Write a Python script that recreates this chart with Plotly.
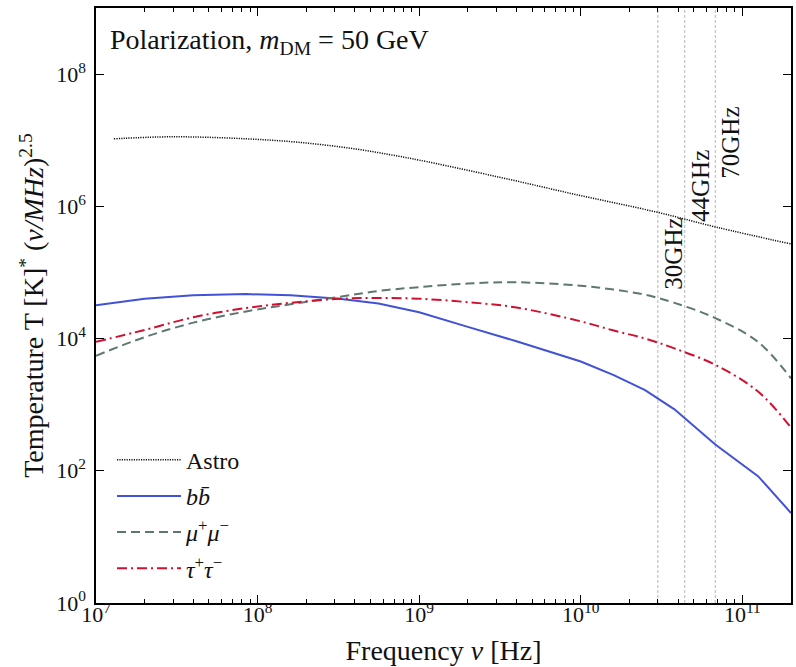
import numpy as np
import plotly.graph_objects as go

# ---------------- data ----------------
freq_astro = [1.29e7, 2.45e7, 4.0e7, 8.5e7, 1.8e8, 4.0e8, 7.4e8, 1.0e9, 3.16e9,
              1.0e10, 3.0e10, 7.0e10, 2.0e11]
temp_astro = [1.05e7, 1.12e7, 1.12e7, 1.05e7, 9.3e6, 7.4e6, 5.75e6, 5.0e6, 2.75e6,
              1.45e6, 8.1e5, 4.8e5, 2.7e5]

freq_dm = [1.0e7, 2.0e7, 4.0e7, 8.5e7, 1.6e8, 3.2e8, 5.6e8, 1.0e9, 2.0e9, 4.0e9,
           1.0e10, 1.6e10, 2.5e10, 3.8e10, 6.8e10, 1.25e11, 2.0e11]
temp_bb = [3.2e4, 4.0e4, 4.5e4, 4.7e4, 4.5e4, 4.0e4, 3.4e4, 2.5e4, 1.5e4, 9.1e3,
           4.5e3, 2.8e3, 1.66e3, 850, 250, 83, 23]
temp_mumu = [5.5e3, 1.05e4, 1.74e4, 2.57e4, 3.3e4, 4.27e4, 5.25e4, 6.0e4, 6.8e4, 7.1e4,
             6.3e4, 5.5e4, 4.6e4, 3.47e4, 2.04e4, 8.9e3, 2.5e3]
temp_tautau = [8.9e3, 1.35e4, 2.1e4, 2.9e4, 3.47e4, 4.0e4, 4.1e4, 4.0e4, 3.55e4, 2.95e4,
               1.82e4, 1.32e4, 1.0e4, 7.1e3, 4.0e3, 1.58e3, 450]

band_freqs = [3.0e10, 4.4e10, 6.8e10]
band_labels = ["30GHz", "44GHz", "70GHz"]
band_label_y = [1.95e5, 2.05e6, 9.1e6]

x_tickvals = [1e7, 1e8, 1e9, 1e10, 1e11]
x_ticktext = ["10<sup>7</sup>", "10<sup>8</sup>", "10<sup>9</sup>", "10<sup>10</sup>", "10<sup>11</sup>"]
y_tickvals = [1, 1e2, 1e4, 1e6, 1e8]
y_ticktext = ["10<sup>0</sup>", "10<sup>2</sup>", "10<sup>4</sup>", "10<sup>6</sup>", "10<sup>8</sup>"]

FONT = "Liberation Serif"

fig = go.Figure()

# vertical band lines
for f in band_freqs:
    fig.add_trace(go.Scatter(x=[f, f], y=[1, 1e9], mode="lines", showlegend=False,
                             hoverinfo="skip",
                             line=dict(color="#b5b5b5", width=1, dash="3px,2px")))

fig.add_trace(go.Scatter(x=freq_astro, y=temp_astro, mode="lines", name="Astro",
                         legendgroup="a", line_shape="spline",
                         line=dict(color="#111111", width=1.5, dash="1.2px,1.2px")))
fig.add_trace(go.Scatter(x=freq_dm, y=temp_bb, mode="lines", name="<i>bb̄</i>",
                         legendgroup="b",
                         line=dict(color="#4152d6", width=2)))
fig.add_trace(go.Scatter(x=freq_dm, y=temp_mumu, mode="lines",
                         name="<i>μ</i><sup>+</sup><i>μ</i><sup>−</sup>",
                         legendgroup="c", line_shape="spline",
                         line=dict(color="#5f7773", width=2, dash="9px,5px")))
fig.add_trace(go.Scatter(x=freq_dm, y=temp_tautau, mode="lines",
                         name="<i>τ</i><sup>+</sup><i>τ</i><sup>−</sup>",
                         legendgroup="d", line_shape="spline",
                         line=dict(color="#cf1030", width=2, dash="10px,4px,2px,4px")))

annotations = [
    dict(text="Polarization, <i>m</i><sub>DM</sub> = 50 GeV", xref="paper", yref="paper",
         x=0.017, y=0.943, xanchor="left", yanchor="middle", showarrow=False,
         font=dict(family=FONT, size=28, color="#111"))
]
for f, lab, yl in zip(band_freqs, band_labels, band_label_y):
    annotations.append(dict(text=lab, xref="x", yref="y", x=np.log10(f), y=np.log10(yl),
                            xanchor="left", yanchor="middle", textangle=-90,
                            showarrow=False, xshift=0,
                            font=dict(family=FONT, size=25, color="#111")))

axis_common = dict(type="log", showgrid=False, zeroline=False, showline=True,
                   linecolor="black", linewidth=1.5, mirror="ticks", ticks="inside",
                   ticklen=8, tickwidth=1, tickcolor="black",
                   tickfont=dict(family=FONT, size=22, color="#111"))

minor_x = [m * 10 ** e for e in range(7, 12) for m in range(2, 10) if m * 10 ** e <= 2e11]

fig.update_layout(
    width=796, height=667,
    margin=dict(l=96, r=3, t=8, b=64),
    paper_bgcolor="white", plot_bgcolor="white",
    font=dict(family=FONT, color="#111"),
    xaxis=dict(**axis_common, range=[7, np.log10(2e11)], tickmode="array",
               tickvals=x_tickvals, ticktext=x_ticktext, ticklabelstandoff=-9,
               minor=dict(tickmode="array", tickvals=minor_x, ticks="inside",
                          ticklen=4, tickcolor="black", tickwidth=1),
               title=dict(text="Frequency <i>ν</i> [Hz]", standoff=14,
                          font=dict(family=FONT, size=28, color="#111"))),
    yaxis=dict(**axis_common, range=[0, 9], tickmode="array",
               tickvals=y_tickvals, ticktext=y_ticktext, ticklabelstandoff=4,
               title=dict(text="Temperature T [K]<sup>*</sup> (<i>ν/MHz</i>)<sup>2.5</sup>",
                          standoff=4, font=dict(family=FONT, size=28, color="#111"))),
    legend=dict(x=0.023, y=0.278, xanchor="left", yanchor="top", bgcolor="rgba(0,0,0,0)",
                font=dict(family=FONT, size=24, color="#111"), itemwidth=64,
                tracegroupgap=2),
    annotations=annotations,
)

fig.write_html("out.html")
